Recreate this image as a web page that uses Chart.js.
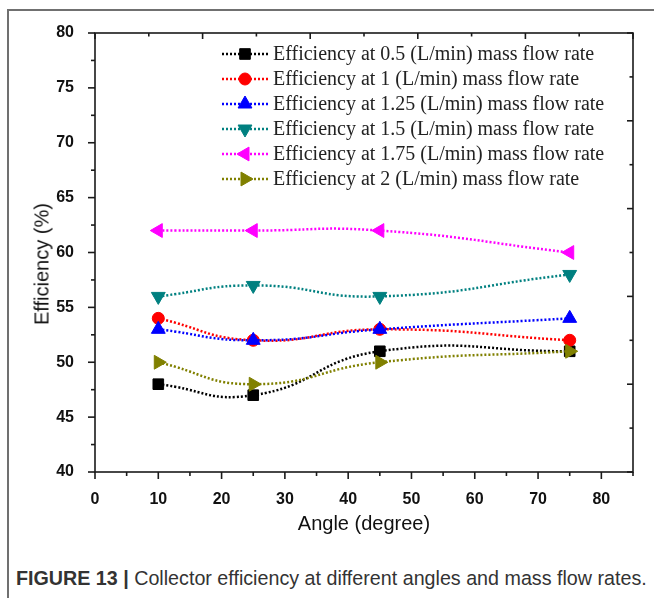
<!DOCTYPE html>
<html>
<head>
<meta charset="utf-8">
<script src="https://cdn.jsdelivr.net/npm/chart.js@4.4.1/dist/chart.umd.min.js"></script>
<style>
  html, body { margin: 0; padding: 0; background: #fff; }
  body { width: 654px; height: 598px; position: relative; overflow: hidden; }
  #frame { position: absolute; left: 7px; top: 9px; width: 660px; height: 600px;
           border-left: 2px solid #707070; border-top: 2px solid #707070; }
  #chart { position: absolute; left: 0; top: 0; }
  .ytitle { position: absolute; left: 42px; top: 264px; transform: translate(-50%, -50%) rotate(-90deg);
            font: 20px "Liberation Sans", Arial, sans-serif; color: #111; white-space: nowrap; }
  .xtitle { position: absolute; left: 364px; top: 523px; transform: translate(-50%, -50%);
            font: 20px "Liberation Sans", Arial, sans-serif; color: #111; white-space: nowrap; }
  .caption { position: absolute; left: 16px; top: 567px; font: 19.7px "Liberation Sans", Arial, sans-serif;
             color: #333; white-space: nowrap; }
</style>
</head>
<body>
<div id="frame"></div>
<canvas id="chart" width="654" height="560"></canvas>
<div class="ytitle">Efficiency (%)</div>
<div class="xtitle">Angle (degree)</div>
<div class="caption"><b>FIGURE 13 |</b> Collector efficiency at different angles and mass flow rates.</div>
<script>
// angles (degree) and efficiency (%) per mass flow rate
const angles = [10, 25, 45, 75];
const eff05 = [48, 47, 51, 51];
const eff1 = [54, 52, 53, 52];
const eff125 = [53, 52, 53, 54];
const eff15 = [56, 57, 56, 58];
const eff175 = [62, 62, 62, 60];
const eff2 = [50, 48, 50, 51];

const seriesLabels = [
  'Efficiency at 0.5 (L/min) mass flow rate',
  'Efficiency at 1 (L/min) mass flow rate',
  'Efficiency at 1.25 (L/min) mass flow rate',
  'Efficiency at 1.5 (L/min) mass flow rate',
  'Efficiency at 1.75 (L/min) mass flow rate',
  'Efficiency at 2 (L/min) mass flow rate'
];
const seriesValues = [eff05, eff1, eff125, eff15, eff175, eff2];
const colors = ['#000000', '#ff0000', '#0000ff', '#008080', '#ff00ff', '#808000'];
const markers = [
  { style: 'rect', rot: 0, r: 7.5 },
  { style: 'circle', rot: 0, r: 6 },
  { style: 'triangle', rot: 0, r: 8 },
  { style: 'triangle', rot: 180, r: 8 },
  { style: 'triangle', rot: -90, r: 8 },
  { style: 'triangle', rot: 90, r: 8 }
];

const xTicks = [0, 10, 20, 30, 40, 50, 60, 70, 80];
const yTicks = [40, 45, 50, 55, 60, 65, 70, 75, 80];

const datasets = seriesValues.map((vals, i) => ({
  label: seriesLabels[i],
  data: angles.map((a, k) => ({ x: a, y: vals[k] })),
  borderColor: colors[i],
  backgroundColor: colors[i],
  borderWidth: 2.5,
  borderDash: [2, 2],
  tension: 0.5,
  pointStyle: markers[i].style,
  rotation: markers[i].rot,
  pointRadius: markers[i].r,
  pointBorderWidth: 1,
  order: seriesValues.length - i
}));

// box around the plot with outward ticks on left/bottom, inward ticks on top/right
const frameTicks = {
  id: 'frameTicks',
  afterDraw(chart) {
    const { ctx, chartArea: a, scales } = chart;
    const line = (x1, y1, x2, y2) => { ctx.beginPath(); ctx.moveTo(x1, y1); ctx.lineTo(x2, y2); ctx.stroke(); };
    ctx.save();
    ctx.strokeStyle = '#1a1a1a';
    ctx.lineWidth = 1.6;
    ctx.strokeRect(a.left, a.top, a.right - a.left, a.bottom - a.top);
    for (let v = 0; v <= 85; v += 5) {
      const px = scales.x.getPixelForValue(v);
      line(px, a.bottom, px, a.bottom + (v % 10 === 0 ? 7 : 4));
    }
    for (let v = 40; v <= 80; v += 2.5) {
      const py = scales.y.getPixelForValue(v);
      line(a.left, py, a.left - (v % 5 === 0 ? 7 : 4), py);
    }
    for (let v = 0; v <= 10; v++) {
      const px = scales.xTop.getPixelForValue(v);
      line(px, a.top, px, a.top + (v % 2 === 0 ? 6 : 3.5));
      const py = scales.yRight.getPixelForValue(v);
      line(a.right, py, a.right - (v % 2 === 0 ? 6 : 3.5), py);
    }
    ctx.restore();
  }
};

// legend inside the plot, top right
const innerLegend = {
  id: 'innerLegend',
  afterDraw(chart) {
    const { ctx } = chart;
    ctx.save();
    chart.data.datasets.forEach((ds, i) => {
      const y = 54 + i * 25;
      ctx.strokeStyle = ds.borderColor;
      ctx.fillStyle = ds.backgroundColor;
      ctx.lineWidth = 2.5;
      ctx.setLineDash([2, 2]);
      ctx.beginPath(); ctx.moveTo(222, y); ctx.lineTo(268, y); ctx.stroke();
      ctx.setLineDash([]);
      ctx.lineWidth = 1;
      Chart.helpers.drawPoint(ctx, { pointStyle: ds.pointStyle, rotation: ds.rotation, radius: ds.pointRadius, borderWidth: 1 }, 245, y);
      ctx.fillStyle = '#222';
      ctx.font = '20px "Liberation Serif", "Times New Roman", serif';
      ctx.textBaseline = 'middle';
      ctx.fillText(ds.label, 273, y + 1);
    });
    ctx.restore();
  }
};

const tickFont = { family: '"Liberation Sans", Arial, sans-serif', size: 16, weight: 'bold' };

new Chart(document.getElementById('chart'), {
  type: 'line',
  data: { datasets },
  options: {
    responsive: false,
    animation: false,
    devicePixelRatio: 1,
    layout: { padding: { top: 33, right: 21, left: 0, bottom: 0 } },
    plugins: { legend: { display: false }, tooltip: { enabled: false } },
    scales: {
      x: {
        type: 'linear', position: 'bottom', min: 0, max: 85,
        afterBuildTicks: s => { s.ticks = xTicks.map(v => ({ value: v })); },
        afterFit: s => { s.height = 88; },
        grid: { display: false }, border: { display: false },
        ticks: { font: tickFont, color: '#111', padding: 10, maxRotation: 0 }
      },
      y: {
        type: 'linear', position: 'left', min: 40, max: 80,
        afterBuildTicks: s => { s.ticks = yTicks.map(v => ({ value: v })); },
        afterFit: s => { s.width = 95; },
        grid: { display: false }, border: { display: false },
        ticks: { font: tickFont, color: '#111', padding: 13 }
      },
      xTop: { type: 'linear', position: 'top', min: 0, max: 10, display: false },
      yRight: { type: 'linear', position: 'right', min: 0, max: 10, display: false }
    }
  },
  plugins: [frameTicks, innerLegend]
});
</script>
</body>
</html>
